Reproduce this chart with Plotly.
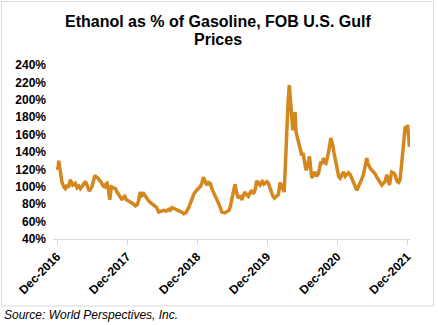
import plotly.graph_objects as go

dates = [
    "2016-12-01", "2016-12-06", "2016-12-10", "2016-12-18", "2016-12-26", "2017-01-05",
    "2017-01-13", "2017-01-22", "2017-01-30", "2017-02-08", "2017-02-14", "2017-02-21",
    "2017-03-06", "2017-03-15", "2017-03-24", "2017-04-02", "2017-04-10", "2017-04-20",
    "2017-04-28", "2017-05-08", "2017-05-18", "2017-06-01", "2017-06-09", "2017-06-16",
    "2017-06-24", "2017-07-03", "2017-07-12", "2017-07-20", "2017-07-29", "2017-08-07",
    "2017-08-13", "2017-08-19", "2017-08-26", "2017-09-02", "2017-09-10", "2017-09-20",
    "2017-10-01", "2017-10-10", "2017-10-19", "2017-10-27", "2017-11-05", "2017-11-12",
    "2017-11-19", "2017-11-28", "2017-12-10", "2017-12-22", "2018-01-05", "2018-01-14",
    "2018-01-22", "2018-01-30", "2018-02-08", "2018-02-17", "2018-02-26", "2018-03-06",
    "2018-03-15", "2018-03-23", "2018-04-01", "2018-04-12", "2018-04-24", "2018-05-05",
    "2018-05-15", "2018-05-28", "2018-06-10", "2018-06-22", "2018-07-06", "2018-07-14",
    "2018-07-22", "2018-08-04", "2018-08-17", "2018-08-30", "2018-09-12", "2018-09-22",
    "2018-10-03", "2018-10-18", "2018-11-03", "2018-11-15", "2018-11-29", "2018-12-08",
    "2018-12-17", "2018-12-26", "2019-01-03", "2019-01-12", "2019-01-21", "2019-01-29",
    "2019-02-07", "2019-02-18", "2019-03-01", "2019-03-10", "2019-03-19", "2019-03-29",
    "2019-04-09", "2019-04-18", "2019-04-26", "2019-05-08", "2019-05-17", "2019-05-24",
    "2019-05-31", "2019-06-09", "2019-06-17", "2019-06-25", "2019-07-04", "2019-07-13",
    "2019-07-22", "2019-07-30", "2019-08-08", "2019-08-16", "2019-08-25", "2019-09-03",
    "2019-09-12", "2019-09-19", "2019-09-26", "2019-10-02", "2019-10-08", "2019-10-16",
    "2019-10-25", "2019-11-01", "2019-11-06", "2019-11-14", "2019-11-21", "2019-11-30",
    "2019-12-08", "2019-12-15", "2019-12-22", "2019-12-30", "2020-01-08", "2020-01-18",
    "2020-01-29", "2020-02-07", "2020-02-17", "2020-02-28", "2020-03-06", "2020-03-13",
    "2020-03-20", "2020-03-26", "2020-04-02", "2020-04-08", "2020-04-13", "2020-04-19",
    "2020-04-25", "2020-04-30", "2020-05-06", "2020-05-12", "2020-05-21", "2020-05-30",
    "2020-06-05", "2020-06-11", "2020-06-16", "2020-06-21", "2020-06-30", "2020-07-09",
    "2020-07-15", "2020-07-21", "2020-07-29", "2020-08-07", "2020-08-15", "2020-08-24",
    "2020-08-30", "2020-09-06", "2020-09-13", "2020-09-20", "2020-09-27", "2020-10-03",
    "2020-10-09", "2020-10-15", "2020-10-22", "2020-10-28", "2020-11-03", "2020-11-07",
    "2020-11-14", "2020-11-20", "2020-12-01", "2020-12-08", "2020-12-16", "2020-12-24",
    "2021-01-02", "2021-01-11", "2021-01-20", "2021-01-28", "2021-02-06", "2021-02-15",
    "2021-02-23", "2021-03-04", "2021-03-13", "2021-03-21", "2021-03-30", "2021-04-08",
    "2021-04-16", "2021-04-25", "2021-05-04", "2021-05-09", "2021-05-14", "2021-05-22",
    "2021-05-30", "2021-06-08", "2021-06-16", "2021-06-25", "2021-07-03", "2021-07-12",
    "2021-07-21", "2021-07-29", "2021-08-07", "2021-08-16", "2021-08-23", "2021-08-30",
    "2021-09-05", "2021-09-11", "2021-09-20", "2021-09-28", "2021-10-04", "2021-10-10",
    "2021-10-17", "2021-10-24", "2021-10-31", "2021-11-07", "2021-11-13", "2021-11-19",
    "2021-11-26", "2021-12-02", "2021-12-07", "2021-12-12",
]
ratio_pct = [
    123, 120, 130, 119, 106, 100,
    98, 102, 99, 108, 104, 102,
    104, 99, 101, 98, 100, 103,
    106, 101, 95, 100, 106, 113,
    111, 110, 107, 105, 101, 100,
    103, 104, 96, 85, 100, 99,
    98, 94, 91, 88, 85, 88,
    89, 85, 83, 82, 80, 78,
    79, 84, 94, 90, 92, 89,
    87, 84, 82, 80, 79, 76,
    71, 72, 73, 72, 74, 73,
    76, 75, 73, 72, 71, 69,
    70, 76, 85, 92, 96, 98,
    100, 104, 111, 106, 102, 105,
    104, 97, 92, 88, 83, 78,
    71, 70, 70, 72, 73, 78,
    87, 95, 103, 93, 87, 90,
    85, 90, 94, 91, 89, 93,
    96, 92, 94, 99, 107, 104,
    102, 105, 106, 103, 104, 106,
    104, 99, 94, 90, 87, 89,
    91, 105, 99, 94, 128, 171,
    200, 217, 190, 175, 165, 178,
    186, 163, 158, 152, 142, 136,
    139, 131, 125, 119, 124, 135,
    122, 110, 114, 117, 112, 115,
    121, 129, 126, 133, 128, 127,
    132, 138, 147, 156, 152, 148,
    139, 131, 117, 112, 110, 113,
    117, 112, 114, 116, 114, 109,
    104, 99, 96, 100, 104, 109,
    114, 122, 133, 126, 125, 121,
    119, 117, 115, 111, 108, 104,
    102, 104, 106, 114, 106, 102,
    110, 117, 116, 114, 109, 106,
    105, 108, 123, 140, 155, 167,
    166, 171, 160, 146,
]

title_lines = ["Ethanol as % of Gasoline, FOB U.S. Gulf", "Prices"]
source_text = "Source: World Perspectives, Inc."

W, H = 438, 325
L, R, T, B = 53, 410, 65, 239  # plot area pixel bounds
pw, ph = R - L, B - T

def px(x):
    return (x - L) / pw

def py(y):
    return (B - y) / ph

fig = go.Figure()
fig.add_trace(go.Scatter(
    x=dates, y=ratio_pct, mode="lines",
    line=dict(color="#D4871C", width=3.5),
    showlegend=False, hoverinfo="skip",
))

fig.update_layout(
    width=W, height=H,
    margin=dict(l=L, r=W - R, t=T, b=H - B),
    paper_bgcolor="white", plot_bgcolor="white",
    font=dict(family="Liberation Sans, Arial, sans-serif", color="black"),
    xaxis=dict(
        type="date", range=["2016-11-10", "2021-12-15"],
        tick0="2016-12-01", dtick="M12", tickformat="%b-%Y",
        tickangle=-45, tickfont=dict(size=12, weight="bold", color="black"),
        showgrid=False, zeroline=False,
        showline=True, linecolor="#D9D9D9", linewidth=1,
        ticks="outside", ticklen=5, tickcolor="#D9D9D9",
    ),
    yaxis=dict(
        range=[40, 240], dtick=20, tick0=40, ticksuffix="%",
        tickfont=dict(size=12, weight="bold", color="black"),
        showgrid=False, zeroline=False, showline=False, ticks="",
        ticklabelstandoff=6,
    ),
    shapes=[dict(
        type="rect", xref="paper", yref="paper",
        x0=px(1.5), x1=px(433.5), y0=py(306), y1=py(1.5),
        line=dict(color="#D9D9D9", width=1), fillcolor="rgba(0,0,0,0)",
        layer="below",
    )],
    annotations=[
        dict(text=title_lines[0], xref="paper", yref="paper",
             x=px(217.5), y=py(22), xanchor="center", yanchor="middle",
             showarrow=False, font=dict(size=16, weight="bold", color="black")),
        dict(text=title_lines[1], xref="paper", yref="paper",
             x=px(217.5), y=py(40), xanchor="center", yanchor="middle",
             showarrow=False, font=dict(size=16, weight="bold", color="black")),
        dict(text="<i>" + source_text + "</i>", xref="paper", yref="paper",
             x=px(2), y=py(315), xanchor="left", yanchor="middle",
             showarrow=False, font=dict(size=12, color="black")),
    ],
)

fig.write_html("out.html")
